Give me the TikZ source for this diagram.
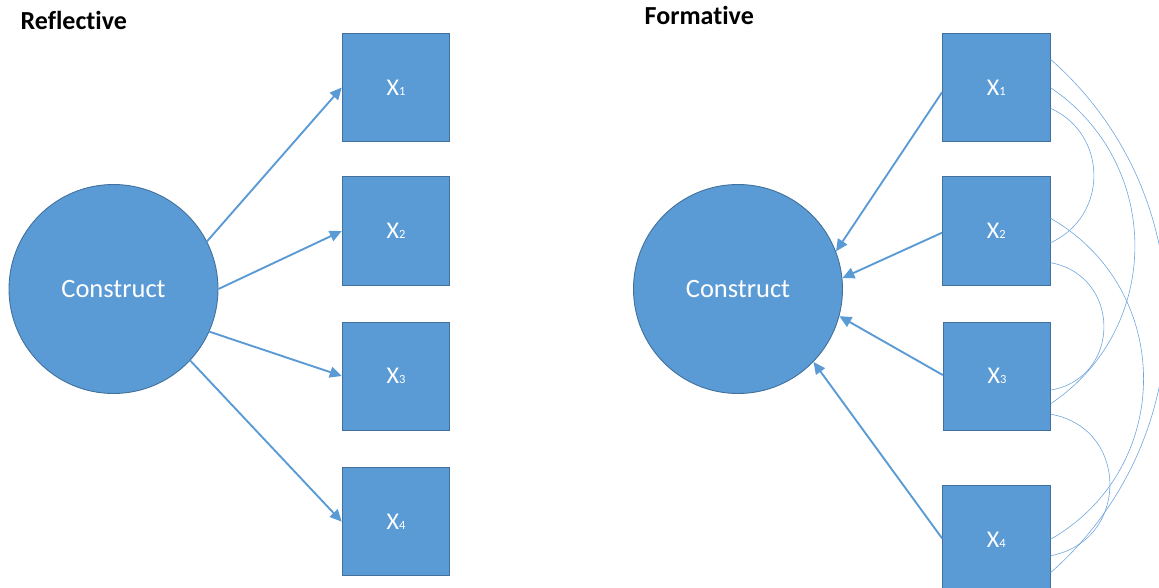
\documentclass[tikz,border=0pt]{standalone}
\usepackage{fontspec}
\setmainfont{Carlito}[Ligatures={NoCommon}]
\usetikzlibrary{arrows.meta}
\definecolor{boxfill}{HTML}{5B9BD5}
\definecolor{boxline}{HTML}{41719C}
\definecolor{arrcol}{HTML}{5B9BD5}
\definecolor{corcol}{HTML}{6FA6DC}
\tikzset{
  construct/.style={circle, minimum size=209pt, inner sep=0pt, fill=boxfill, draw=boxline, line width=0.9pt,
    text=white, font=\fontsize{26.5}{30}\selectfont},
  indicator/.style={rectangle, minimum width=107.5pt, minimum height=108pt, inner sep=0pt, fill=boxfill,
    draw=boxline, line width=1pt, text=white, font=\fontsize{24}{28}\selectfont},
  titletext/.style={anchor=base west, inner sep=0pt, font=\bfseries\fontsize{26}{30}\selectfont},
  arr/.style={draw=arrcol, line width=1.9pt, -{Triangle[length=12pt,width=11pt]}},
  corr/.style={draw=corcol, line width=0.6pt}
}
\newcommand{\ind}[1]{X{\fontsize{12.5}{14}\selectfont #1}}
\begin{document}
\begin{tikzpicture}[x=1pt,y=-1pt]
\useasboundingbox (0,0) rectangle (1159,588);
% titles
\node[titletext] (tr) at (20.5,30) {Reflective};
\node[titletext] (tf) at (644.5,25) {Formative};
% reflective
\node[construct] (c1) at (113.5,289) {Construct};
\node[indicator] (r1) at (396,87.5) {\ind{1}};
\node[indicator] (r2) at (396,231) {\ind{2}};
\node[indicator] (r3) at (396,376) {\ind{3}};
\node[indicator] (r4) at (396,521.7) {\ind{4}};
\draw[arr] (c1.27.6) -- (r1.west);
\draw[arr] (c1.0.5) -- (r2.west);
\draw[arr] (c1.-24.7) -- (r3.west);
\draw[arr] (c1.-43.5) -- (r4.west);
% formative
\node[construct] (c2) at (738,289) {Construct};
\node[indicator] (f1) at (996.3,87.5) {\ind{1}};
\node[indicator] (f2) at (996.3,231) {\ind{2}};
\node[indicator] (f3) at (997,376) {\ind{3}};
\node[indicator] (f4) at (996.3,539.7) {\ind{4}};
\draw[arr] ([yshift=-4.8pt]f1.west) -- (c2.21.7);
\draw[arr] ([yshift=-1.7pt]f2.west) -- (c2.6);
\draw[arr] ([yshift=1pt]f3.west) -- (c2.-15.2);
\draw[arr] ([yshift=1.4pt]f4.west) -- (c2.-44.6);
% correlations
\draw[corr] ([yshift=-20.8pt]f1.east) .. controls +(57.8,26.2) and +(57.8,-26.2) .. ([yshift=-11.7pt]f2.east);
\draw[corr] ([yshift=-0.2pt]f1.east) .. controls +(112,75.4) and +(112,-75.4) .. ([yshift=-27.3pt]f3.east);
\draw[corr] ([yshift=28.2pt]f1.east) .. controls +(154.7,136.2) and +(154.7,-136.2) .. ([yshift=-33pt]f4.east);
\draw[corr] ([yshift=-31.7pt]f2.east) .. controls +(70.7,13) and +(70.7,-13) .. ([yshift=-14pt]f3.east);
\draw[corr] ([yshift=12.7pt]f2.east) .. controls +(124,71.1) and +(124,-71.1) .. ([yshift=0.4pt]f4.east);
\draw[corr] ([yshift=-38.3pt]f3.east) .. controls +(78.7,14.4) and +(78.7,-14.4) .. ([yshift=-16pt]f4.east);
\end{tikzpicture}
\end{document}
